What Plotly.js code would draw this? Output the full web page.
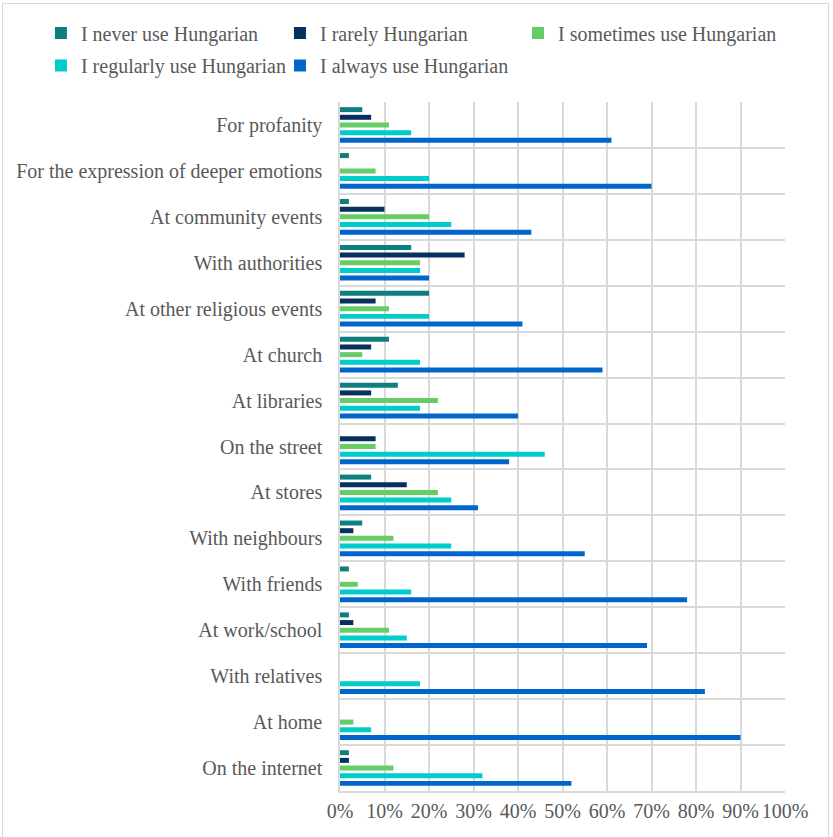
<!DOCTYPE html>
<html>
<head>
<meta charset="utf-8">
<script src="https://cdn.plot.ly/plotly-3.0.1.min.js"></script>
<style>
  html, body { margin: 0; padding: 0; background: #ffffff; overflow: hidden; }
  #chart { position: absolute; left: 0; top: 0; width: 833px; height: 837px; }
  #frame { position: absolute; left: 2px; top: 3px; width: 825px; height: 840px;
           border: 1px solid #d9d9d9; pointer-events: none; }
</style>
</head>
<body>
<div id="chart"></div>
<div id="frame"></div>
<script>
const categories = [
  "For profanity",
  "For the expression of deeper emotions",
  "At community events",
  "With authorities",
  "At other religious events",
  "At church",
  "At libraries",
  "On the street",
  "At stores",
  "With neighbours",
  "With friends",
  "At work/school",
  "With relatives",
  "At home",
  "On the internet"
];

const seriesNames = [
  "I never use Hungarian",
  "I rarely Hungarian",
  "I sometimes use Hungarian",
  "I regularly use Hungarian",
  "I always use Hungarian"
];

const neverUse     = [5, 2, 2, 16, 20, 11, 13, 0, 7, 5, 2, 2, 0, 0, 2];
const rarelyUse    = [7, 0, 10, 28, 8, 7, 7, 8, 15, 3, 0, 3, 0, 0, 2];
const sometimesUse = [11, 8, 20, 18, 11, 5, 22, 8, 22, 12, 4, 11, 0, 3, 12];
const regularlyUse = [16, 20, 25, 18, 20, 18, 18, 46, 25, 25, 16, 15, 18, 7, 32];
const alwaysUse    = [61, 70, 43, 20, 41, 59, 40, 38, 31, 55, 78, 69, 82, 90, 52];

const xTickVals = [0, 10, 20, 30, 40, 50, 60, 70, 80, 90, 100];

const colors = ["#0e7f7f", "#06315f", "#66cc66", "#00cccc", "#0066cc"];
const values = [neverUse, rarelyUse, sometimesUse, regularlyUse, alwaysUse];
const legendIds = ["legend", "legend2", "legend3", "legend4", "legend5"];

const font = "Times New Roman, Liberation Serif, Tinos, DejaVu Serif, serif";
const gray = "#595959";

const traces = values.map((v, i) => ({
  type: "bar",
  orientation: "h",
  name: seriesNames[i],
  x: v,
  y: categories,
  legend: legendIds[i],
  marker: { color: colors[i] },
  hoverinfo: "x+y+name"
}));

function legendAt(x, y) {
  return {
    orientation: "h",
    x: x, xanchor: "left",
    y: y, yanchor: "middle",
    font: { family: font, size: 20, color: gray },
    itemclick: false,
    bgcolor: "rgba(0,0,0,0)"
  };
}

const layout = {
  width: 833,
  height: 837,
  margin: { l: 340, r: 48, t: 102, b: 46, pad: 0, autoexpand: false },
  paper_bgcolor: "#ffffff",
  plot_bgcolor: "#ffffff",
  barmode: "group",
  bargap: 0.165,
  bargroupgap: 0.35,
  font: { family: font, size: 20, color: gray },
  showlegend: true,
  legend:  legendAt(-0.6720, 1.1001),
  legend2: legendAt(-0.1349, 1.1001),
  legend3: legendAt(0.4000, 1.1001),
  legend4: legendAt(-0.6720, 1.0530),
  legend5: legendAt(-0.1349, 1.0530),
  xaxis: {
    range: [0, 100],
    tickvals: xTickVals,
    ticktext: xTickVals.map(v => v + "%"),
    showgrid: true,
    gridcolor: "#d9d9d9",
    gridwidth: 1.5,
    zeroline: false,
    showline: true,
    linecolor: "#d9d9d9",
    linewidth: 1.5,
    ticks: "",
    ticklabelstandoff: 1,
    automargin: false,
    tickfont: { family: font, size: 20, color: gray },
    fixedrange: true
  },
  yaxis: {
    type: "category",
    autorange: "reversed",
    tickson: "boundaries",
    showgrid: true,
    gridcolor: "#d9d9d9",
    gridwidth: 1.5,
    showline: true,
    linecolor: "#d9d9d9",
    linewidth: 1.5,
    ticks: "",
    ticklabelstandoff: 12,
    automargin: false,
    tickfont: { family: font, size: 20, color: gray },
    fixedrange: true
  }
};

Plotly.newPlot("chart", traces, layout, { displayModeBar: false, responsive: false });
</script>
</body>
</html>
